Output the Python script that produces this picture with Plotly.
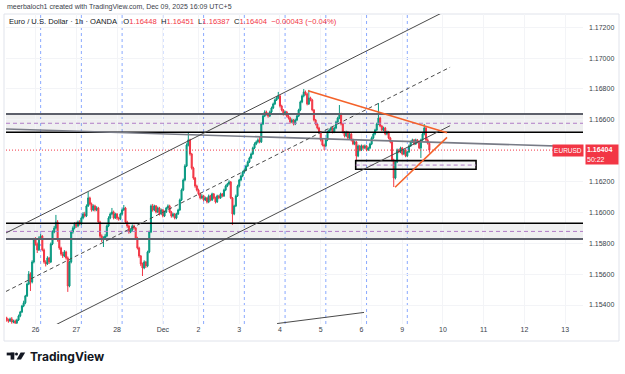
import plotly.graph_objects as go

# ---------------- data (EURUSD, 1h, OANDA) ----------------
# bar positions: 1h bars with weekends removed, bar 0 = Nov 26 00:00 (UTC+5)
bars = list(range(-17, 233))

# prices in units of 0.00001 (116404 -> 1.16404)
opens = [
 115316,115303,115297,115310,115290,115297,115284,115303,115329,115355,
 115394,115414,115459,115536,115601,115549,115679,115822,115796,115757,
 115834,115847,115757,115679,115666,115705,115679,115796,115873,115899,
 115938,115822,115770,115731,115718,115744,115705,115523,115679,115873,
 115899,115925,115912,115938,115925,115964,115990,115977,116042,116094,
 116055,116016,116042,116016,116029,115938,115847,115822,115834,115847,
 115912,115964,115990,116003,115964,115990,115964,115958,115990,116016,
 116029,115938,115912,115873,115886,115912,115899,115834,115770,115718,
 115666,115640,115679,115653,115744,115873,116042,116016,116042,116003,
 116029,115990,116016,115977,116003,116029,116042,116003,115977,115990,
 115964,115990,116016,116081,116146,116210,116301,116437,116470,116379,
 116288,116223,116171,116146,116120,116094,116107,116081,116094,116068,
 116107,116081,116120,116094,116068,116107,116094,116120,116107,116146,
 116171,116184,116197,116094,115990,116042,116107,116171,116210,116236,
 116262,116275,116301,116327,116353,116379,116418,116444,116457,116470,
 116457,116573,116625,116651,116638,116625,116651,116677,116703,116729,
 116742,116755,116690,116664,116638,116651,116625,116612,116586,116599,
 116573,116599,116625,116664,116716,116755,116781,116768,116703,116742,
 116729,116664,116599,116573,116547,116521,116470,116437,116431,116470,
 116521,116534,116547,116521,116547,116586,116612,116638,116573,116521,
 116496,116521,116483,116508,116470,116444,116457,116366,116431,116405,
 116431,116418,116431,116405,116418,116444,116483,116508,116534,116573,
 116612,116560,116534,116547,116508,116521,116483,116457,116340,116223,
 116327,116405,116392,116418,116379,116405,116366,116392,116431,116457,
 116470,116444,116470,116457,116418,116470,116508,116547,116470,116448]

highs = [
 115324,115312,115318,115322,115305,115306,115311,115338,115362,115401,
 115428,115466,115545,115620,115612,115690,115835,115840,115805,115845,
 115860,115853,115766,115690,115716,115712,115805,115884,115912,115984,
 115950,115830,115778,115745,115756,115752,115715,115688,115884,115910,
 115936,115940,115948,115950,115975,116002,116004,116052,116133,116102,
 116064,116052,116050,116040,116036,115946,115858,115845,115860,115922,
 115975,116000,116029,116012,115998,115996,115972,115998,116025,116048,
 116036,115946,115920,115898,115922,115920,115905,115842,115778,115724,
 115675,115690,115686,115752,115882,116052,116055,116050,116048,116038,
 116036,116025,116022,116012,116036,116052,116050,116010,115998,115996,
 115998,116024,116090,116155,116220,116312,116448,116515,116478,116386,
 116296,116230,116180,116154,116128,116118,116114,116103,116100,116116,
 116114,116128,116126,116102,116115,116114,116128,116126,116154,116180,
 116192,116208,116204,116100,116050,116116,116180,116218,116245,116270,
 116286,116310,116336,116362,116388,116426,116454,116466,116480,116490,
 116582,116634,116662,116660,116646,116660,116686,116712,116738,116752,
 116781,116762,116698,116670,116660,116658,116632,116620,116608,116606,
 116608,116634,116672,116725,116764,116800,116790,116776,116794,116750,
 116736,116670,116606,116580,116555,116528,116478,116446,116478,116530,
 116544,116556,116554,116556,116594,116620,116696,116646,116580,116528,
 116530,116528,116516,116514,116478,116466,116464,116440,116438,116440,
 116438,116440,116438,116426,116452,116492,116516,116542,116582,116709,
 116620,116566,116556,116554,116530,116528,116490,116464,116348,116336,
 116414,116412,116426,116424,116412,116412,116400,116440,116466,116478,
 116476,116478,116476,116464,116478,116516,116573,116554,116480,116451]

lows = [
 115292,115285,115290,115279,115282,115270,115277,115296,115321,115348,
 115386,115405,115452,115529,115491,115540,115670,115785,115737,115750,
 115822,115748,115668,115650,115660,115666,115672,115788,115865,115890,
 115810,115758,115720,115705,115710,115694,115485,115515,115670,115862,
 115890,115900,115904,115915,115918,115955,115968,115970,116035,116046,
 116005,116008,116006,116008,115928,115836,115808,115776,115825,115840,
 115905,115956,115982,115955,115958,115952,115946,115950,115982,116010,
 115928,115900,115862,115866,115878,115890,115825,115760,115706,115652,
 115588,115632,115640,115645,115736,115866,116005,116008,115994,115996,
 115980,115984,115968,115970,115996,116020,115995,115966,115968,115955,
 115956,115984,116010,116074,116138,116202,116294,116428,116368,116278,
 116212,116160,116136,116110,116084,116086,116072,116074,116058,116060,
 116072,116074,116085,116058,116062,116086,116088,116098,116100,116138,
 116164,116176,116086,115919,115982,116035,116100,116162,116202,116228,
 116254,116268,116294,116320,116346,116372,116410,116436,116448,116448,
 116450,116566,116618,116628,116614,116618,116644,116670,116696,116722,
 116734,116680,116655,116628,116630,116616,116602,116576,116578,116564,
 116566,116592,116618,116656,116708,116746,116758,116694,116696,116720,
 116655,116590,116564,116538,116512,116460,116428,116405,116424,116462,
 116514,116526,116512,116514,116540,116578,116604,116564,116512,116486,
 116488,116474,116476,116460,116436,116436,116340,116358,116396,116398,
 116410,116410,116396,116398,116410,116436,116476,116500,116526,116566,
 116552,116526,116526,116500,116500,116474,116448,116330,116165,116214,
 116320,116384,116384,116370,116372,116358,116358,116386,116424,116450,
 116436,116438,116448,116410,116353,116462,116500,116462,116440,116387]

closes = [
 115303,115297,115310,115290,115297,115284,115303,115329,115355,115394,
 115414,115459,115536,115601,115549,115679,115822,115796,115757,115834,
 115847,115757,115679,115666,115705,115679,115796,115873,115899,115938,
 115822,115770,115731,115718,115744,115705,115523,115679,115873,115899,
 115925,115912,115938,115925,115964,115990,115977,116042,116094,116055,
 116016,116042,116016,116029,115938,115847,115822,115834,115847,115912,
 115964,115990,116003,115964,115990,115964,115958,115990,116016,116029,
 115938,115912,115873,115886,115912,115899,115834,115770,115718,115666,
 115640,115679,115653,115744,115873,116042,116016,116042,116003,116029,
 115990,116016,115977,116003,116029,116042,116003,115977,115990,115964,
 115990,116016,116081,116146,116210,116301,116437,116470,116379,116288,
 116223,116171,116146,116120,116094,116107,116081,116094,116068,116107,
 116081,116120,116094,116068,116107,116094,116120,116107,116146,116171,
 116184,116197,116094,115990,116042,116107,116171,116210,116236,116262,
 116275,116301,116327,116353,116379,116418,116444,116457,116470,116457,
 116573,116625,116651,116638,116625,116651,116677,116703,116729,116742,
 116755,116690,116664,116638,116651,116625,116612,116586,116599,116573,
 116599,116625,116664,116716,116755,116781,116768,116703,116742,116729,
 116664,116599,116573,116547,116521,116470,116437,116431,116470,116521,
 116534,116547,116521,116547,116586,116612,116638,116573,116521,116496,
 116521,116483,116508,116470,116444,116457,116366,116431,116405,116431,
 116418,116431,116405,116418,116444,116483,116508,116534,116573,116612,
 116560,116534,116547,116508,116521,116483,116457,116340,116223,116327,
 116405,116392,116418,116379,116405,116366,116392,116431,116457,116470,
 116444,116470,116457,116418,116470,116508,116547,116470,116448,116404]

day_ticks = [0, 24, 48, 75, 96, 120, 144, 168, 192, 216, 240, 264, 288, 312]
day_labels = ["26", "27", "28", "Dec", "2", "3", "4", "5", "6", "9", "10", "11", "12", "13"]
session_bars = [3, 27, 51, 75, 99, 123, 147, 171, 195, 219]
price_ticks = [1.154, 1.156, 1.158, 1.160, 1.162, 1.166, 1.168, 1.170, 1.172]
last_price = 1.16404

# ---------------- drawings (chart annotations, in data coords) ----------------
upper_zone = dict(bottom=1.16520, top=1.16638, mid=1.16578)
lower_zone = dict(bottom=1.15828, top=1.15930, mid=1.15877)
small_box = dict(x0=188.6, x1=259.5, bottom=1.16280, top=1.16336, mid=1.16307)
channel_x = (-17.4, 244.2)
channel_upper = (1.15867, 1.17320)
channel_mid = (1.15488, 1.16941)
channel_lower = (1.15109, 1.16562)
flat_trend = ((-17.4, 1.16541), (322.5, 1.16425))
tri_upper = ((160.5, 1.16789), (242.4, 1.16517))
tri_lower = ((211.8, 1.16163), (242.4, 1.16486))
bottom_trend = ((142.3, 1.15280), (193.5, 1.15352))

# ---------------- figure ----------------
W, H = 625, 374
PL, PR, PT, PB = 6, 583, 14, 324   # plot area in pixels

def fx(x):
    return (x - PL) / (PR - PL)

def fy(y):
    return (PB - y) / (PB - PT)

S = 1e-5
GREEN, RED = "#089981", "#f23645"
FONT = "Liberation Sans"

fig = go.Figure()
fig.add_trace(go.Candlestick(
    x=bars,
    open=[v * S for v in opens], high=[v * S for v in highs],
    low=[v * S for v in lows], close=[v * S for v in closes],
    increasing=dict(line=dict(color=GREEN, width=1), fillcolor=GREEN),
    decreasing=dict(line=dict(color=RED, width=1), fillcolor=RED),
    whiskerwidth=0, showlegend=False, hoverinfo="skip"))

shapes = []
# session separators
for b in session_bars:
    shapes.append(dict(type="line", xref="x", yref="paper", x0=b, x1=b, y0=0, y1=1,
                       line=dict(color="rgba(41,98,255,0.55)", width=1, dash="3px,3px"), layer="below"))
# zones
for z, top_style, bot_style in ((upper_zone, ("#5d606b", 2.2), ("#000000", 1.6)),
                                (lower_zone, ("#000000", 1.6), ("#5d606b", 2.2))):
    shapes.append(dict(type="rect", xref="paper", yref="y", x0=0, x1=1, y0=z["bottom"], y1=z["top"],
                       fillcolor="rgba(120,123,134,0.12)", line=dict(width=0), layer="below"))
    shapes.append(dict(type="line", xref="paper", yref="y", x0=0, x1=1, y0=z["top"], y1=z["top"],
                       line=dict(color=top_style[0], width=top_style[1])))
    shapes.append(dict(type="line", xref="paper", yref="y", x0=0, x1=1, y0=z["bottom"], y1=z["bottom"],
                       line=dict(color=bot_style[0], width=bot_style[1])))
    shapes.append(dict(type="line", xref="paper", yref="y", x0=0, x1=1, y0=z["mid"], y1=z["mid"],
                       line=dict(color="#b07cc6", width=1, dash="4px,3px")))
# small box
shapes.append(dict(type="rect", xref="x", yref="y", x0=small_box["x0"], x1=small_box["x1"],
                   y0=small_box["bottom"], y1=small_box["top"],
                   fillcolor="rgba(120,123,134,0.08)", line=dict(color="#000000", width=1.6)))
shapes.append(dict(type="line", xref="x", yref="y", x0=small_box["x0"], x1=small_box["x1"],
                   y0=small_box["mid"], y1=small_box["mid"],
                   line=dict(color="#b07cc6", width=1, dash="4px,3px")))
# last price dotted line
shapes.append(dict(type="line", xref="paper", yref="y", x0=0, x1=1, y0=last_price, y1=last_price,
                   line=dict(color=RED, width=1, dash="1px,2px")))
# flat trend line
shapes.append(dict(type="line", xref="x", yref="y", x0=flat_trend[0][0], y0=flat_trend[0][1],
                   x1=flat_trend[1][0], y1=flat_trend[1][1], line=dict(color="#787b86", width=1.6)))
# channel
for yy, dash in ((channel_upper, "solid"), (channel_mid, "4px,3px"), (channel_lower, "solid")):
    shapes.append(dict(type="line", xref="x", yref="y", x0=channel_x[0], y0=yy[0], x1=channel_x[1], y1=yy[1],
                       line=dict(color="#4a4a4a", width=1, dash=dash)))
# bottom trend
shapes.append(dict(type="line", xref="x", yref="y", x0=bottom_trend[0][0], y0=bottom_trend[0][1],
                   x1=bottom_trend[1][0], y1=bottom_trend[1][1], line=dict(color="#4a4a4a", width=1)))
# triangle
for seg in (tri_upper, tri_lower):
    shapes.append(dict(type="line", xref="x", yref="y", x0=seg[0][0], y0=seg[0][1], x1=seg[1][0], y1=seg[1][1],
                       line=dict(color="#f4622a", width=1.6)))
# frame
shapes.append(dict(type="rect", xref="paper", yref="paper", x0=fx(4), x1=fx(619), y0=fy(341), y1=fy(14),
                   line=dict(color="#e0e3eb", width=1), layer="below"))
# TradingView logo glyph
shapes.append(dict(type="rect", xref="paper", yref="paper", x0=fx(6.7), x1=fx(14.3), y0=fy(355.4), y1=fy(352.6),
                   fillcolor="#131722", line=dict(width=0)))
shapes.append(dict(type="rect", xref="paper", yref="paper", x0=fx(10.6), x1=fx(14.3), y0=fy(359.6), y1=fy(352.6),
                   fillcolor="#131722", line=dict(width=0)))
shapes.append(dict(type="circle", xref="paper", yref="paper", x0=fx(15.0), x1=fx(18.0), y0=fy(355.6), y1=fy(352.6),
                   fillcolor="#131722", line=dict(width=0)))
path = "M {:.5f} {:.5f} L {:.5f} {:.5f} L {:.5f} {:.5f} L {:.5f} {:.5f} Z".format(
    fx(20.6), fy(352.6), fx(25.2), fy(352.6), fx(21.0), fy(359.6), fx(16.6), fy(359.6))
shapes.append(dict(type="path", xref="paper", yref="paper", path=path, fillcolor="#131722", line=dict(width=0)))

annotations = [
    dict(xref="paper", yref="paper", x=fx(5), y=fy(6.5), xanchor="left", yanchor="middle", showarrow=False,
         text="meerbaloch1 created with TradingView.com, Dec 09, 2025 16:09 UTC+5",
         font=dict(family=FONT, size=7, color="#3a3e4a")),
    dict(xref="paper", yref="paper", x=fx(7), y=fy(21), xanchor="left", yanchor="middle", showarrow=False,
         text=("Euro / U.S. Dollar · 1h · OANDA&nbsp;&nbsp;&nbsp;"
               "O<span style='color:%s'>1.16448</span>&nbsp;&nbsp;H<span style='color:%s'>1.16451</span>&nbsp;&nbsp;"
               "L<span style='color:%s'>1.16387</span>&nbsp;&nbsp;C<span style='color:%s'>1.16404</span>&nbsp;&nbsp;"
               "<span style='color:%s'>−0.00043 (−0.04%%)</span>") % (RED, RED, RED, RED, RED),
         font=dict(family=FONT, size=7.6, color="#131722")),
    dict(xref="paper", yref="y", x=fx(584), y=last_price, xanchor="right", yanchor="middle", showarrow=False,
         text="EURUSD", bgcolor=RED, font=dict(family=FONT, size=6.5, color="white"),
         width=28, height=9, borderpad=1),
    dict(xref="paper", yref="paper", x=fx(585), y=fy(143.5), xanchor="left", yanchor="top", showarrow=False,
         text="<b>1.16404</b><br>50:22", bgcolor=RED, align="left",
         font=dict(family=FONT, size=7, color="white"), width=30, height=17, borderpad=1),
    dict(xref="paper", yref="paper", x=fx(28), y=fy(356.3), xanchor="left", yanchor="middle", showarrow=False,
         text="<b>TradingView</b>", font=dict(family="Inter", size=12, color="#131722")),
]

fig.update_layout(
    width=W, height=H,
    margin=dict(l=PL, r=W - PR, t=PT, b=H - PB),
    paper_bgcolor="white", plot_bgcolor="white", showlegend=False,
    boxgap=0.12,
    xaxis=dict(range=[-17.4, 322.5], tickmode="array", tickvals=day_ticks, ticktext=day_labels,
               showgrid=True, gridcolor="#f3f4f7", gridwidth=1, zeroline=False, showline=False,
               ticks="", rangeslider=dict(visible=False),
               tickfont=dict(family=FONT, size=7, color="#3a3e4a")),
    yaxis=dict(side="right", range=[1.15277, 1.17286], tickmode="array", tickvals=price_ticks,
               ticktext=["%.5f" % v for v in price_ticks], showgrid=True, gridcolor="#f3f4f7",
               zeroline=False, showline=False, ticks="", ticklabelstandoff=5,
               tickfont=dict(family=FONT, size=7, color="#3a3e4a")),
    shapes=shapes, annotations=annotations,
)

fig.write_html("out.html")
